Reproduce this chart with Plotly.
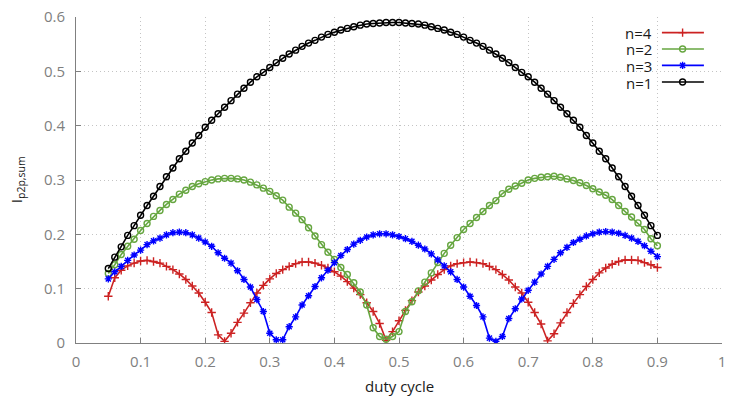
import plotly.graph_objects as go

# ---------------- data ----------------
duty = [0.05, 0.06, 0.07, 0.08, 0.09, 0.10, 0.11, 0.12, 0.13, 0.14,
        0.15, 0.16, 0.17, 0.18, 0.19, 0.20, 0.21, 0.22, 0.23, 0.24,
        0.25, 0.26, 0.27, 0.28, 0.29, 0.30, 0.31, 0.32, 0.33, 0.34,
        0.35, 0.36, 0.37, 0.38, 0.39, 0.40, 0.41, 0.42, 0.43, 0.44,
        0.45, 0.46, 0.47, 0.48, 0.49, 0.50, 0.51, 0.52, 0.53, 0.54,
        0.55, 0.56, 0.57, 0.58, 0.59, 0.60, 0.61, 0.62, 0.63, 0.64,
        0.65, 0.66, 0.67, 0.68, 0.69, 0.70, 0.71, 0.72, 0.73, 0.74,
        0.75, 0.76, 0.77, 0.78, 0.79, 0.80, 0.81, 0.82, 0.83, 0.84,
        0.85, 0.86, 0.87, 0.88, 0.89, 0.90]

n4 = [0.086, 0.120, 0.134, 0.142, 0.147, 0.151, 0.152, 0.150, 0.147, 0.141,
      0.135, 0.127, 0.117, 0.105, 0.092, 0.075, 0.056, 0.015, 0.003, 0.018,
      0.038, 0.055, 0.074, 0.092, 0.106, 0.118, 0.128, 0.135, 0.141, 0.146,
      0.149, 0.149, 0.147, 0.143, 0.138, 0.131, 0.123, 0.113, 0.101, 0.089,
      0.074, 0.058, 0.036, 0.005, 0.021, 0.041, 0.060, 0.078, 0.094, 0.105,
      0.116, 0.126, 0.135, 0.142, 0.146, 0.148, 0.149, 0.148, 0.146, 0.141,
      0.135, 0.126, 0.116, 0.103, 0.092, 0.075, 0.056, 0.035, 0.004, 0.017,
      0.037, 0.056, 0.073, 0.089, 0.104, 0.117, 0.129, 0.138, 0.145, 0.150,
      0.153, 0.153, 0.152, 0.148, 0.144, 0.139]

n2 = [0.128, 0.144, 0.163, 0.178, 0.191, 0.207, 0.220, 0.233, 0.244, 0.255,
      0.264, 0.274, 0.281, 0.288, 0.293, 0.297, 0.300, 0.302, 0.303, 0.303,
      0.302, 0.300, 0.296, 0.291, 0.285, 0.279, 0.271, 0.263, 0.250, 0.239,
      0.227, 0.212, 0.197, 0.181, 0.167, 0.154, 0.139, 0.126, 0.111, 0.094,
      0.070, 0.028, 0.012, 0.007, 0.012, 0.021, 0.058, 0.076, 0.096, 0.112,
      0.129, 0.148, 0.165, 0.180, 0.194, 0.209, 0.220, 0.231, 0.242, 0.253,
      0.262, 0.275, 0.283, 0.289, 0.294, 0.300, 0.303, 0.305, 0.306, 0.307,
      0.305, 0.302, 0.299, 0.295, 0.290, 0.284, 0.278, 0.272, 0.264, 0.253,
      0.242, 0.232, 0.221, 0.209, 0.192, 0.179]

n3 = [0.118, 0.131, 0.141, 0.152, 0.162, 0.171, 0.181, 0.188, 0.193, 0.199,
      0.203, 0.204, 0.203, 0.199, 0.193, 0.186, 0.178, 0.166, 0.156, 0.147,
      0.133, 0.117, 0.103, 0.080, 0.058, 0.018, 0.006, 0.006, 0.030, 0.048,
      0.070, 0.087, 0.104, 0.120, 0.134, 0.148, 0.161, 0.172, 0.182, 0.189,
      0.195, 0.199, 0.201, 0.201, 0.199, 0.196, 0.192, 0.187, 0.180, 0.173,
      0.164, 0.153, 0.142, 0.131, 0.117, 0.103, 0.086, 0.069, 0.048, 0.009,
      0.003, 0.012, 0.045, 0.063, 0.081, 0.097, 0.112, 0.127, 0.141, 0.154,
      0.166, 0.176, 0.185, 0.191, 0.197, 0.201, 0.204, 0.205, 0.204, 0.202,
      0.198, 0.193, 0.187, 0.179, 0.169, 0.159]

n1 = [0.137, 0.158, 0.177, 0.198, 0.216, 0.235, 0.253, 0.270, 0.288, 0.306,
      0.322, 0.339, 0.353, 0.368, 0.382, 0.397, 0.410, 0.422, 0.434, 0.446,
      0.458, 0.469, 0.480, 0.490, 0.498, 0.507, 0.516, 0.524, 0.532, 0.539,
      0.546, 0.552, 0.557, 0.563, 0.568, 0.572, 0.576, 0.579, 0.582, 0.585,
      0.587, 0.588, 0.589, 0.590, 0.590, 0.590, 0.589, 0.588, 0.587, 0.585,
      0.582, 0.579, 0.576, 0.572, 0.568, 0.563, 0.557, 0.552, 0.546, 0.539,
      0.532, 0.524, 0.516, 0.507, 0.498, 0.490, 0.480, 0.469, 0.458, 0.446,
      0.434, 0.422, 0.410, 0.397, 0.382, 0.368, 0.353, 0.339, 0.322, 0.306,
      0.288, 0.270, 0.253, 0.235, 0.216, 0.198]

series_names = ["n=4", "n=2", "n=3", "n=1"]
series_values = [n4, n2, n3, n1]

x_ticks = [0, 0.1, 0.2, 0.3, 0.4, 0.5, 0.6, 0.7, 0.8, 0.9, 1]
x_tick_labels = ["0", "0.1", "0.2", "0.3", "0.4", "0.5", "0.6", "0.7", "0.8", "0.9", "1"]
y_ticks = [0, 0.1, 0.2, 0.3, 0.4, 0.5, 0.6]
y_tick_labels = ["0", "0.1", "0.2", "0.3", "0.4", "0.5", "0.6"]

# ---------------- styles ----------------
colors = ["#cc2222", "#66a640", "#0000ff", "#000000"]
symbols = ["cross-thin", "circle-open", "asterisk-open", "circle-open"]
msizes = [6, 6, 6, 6]

FONT = "Open Sans, Noto Sans, DejaVu Sans, sans-serif"
TICK_COLOR = "#7f7f7f"
GRID_COLOR = "#c4c4c4"

fig = go.Figure()

for name, vals, c, sym, ms in zip(series_names, series_values, colors, symbols, msizes):
    fig.add_trace(go.Scatter(
        x=duty, y=vals, name=name, mode="lines+markers",
        line=dict(color=c, width=1.6),
        marker=dict(symbol=sym, size=ms, color=c, line=dict(color=c, width=1.4)),
        showlegend=False,
    ))

# gnuplot-like key: text on the left, sample on the right (drawn on a hidden overlay axis)
leg_text_x = 0.893
leg_line_x = [0.907, 0.972]
leg_mark_x = 0.939
leg_y = [0.952, 0.902, 0.8515, 0.8006]

annotations = []
for name, c, sym, ms, ly in zip(series_names, colors, symbols, msizes, leg_y):
    fig.add_trace(go.Scatter(
        x=leg_line_x, y=[ly, ly], xaxis="x2", yaxis="y2", mode="lines",
        line=dict(color=c, width=1.6), showlegend=False, hoverinfo="skip"))
    fig.add_trace(go.Scatter(
        x=[leg_mark_x], y=[ly], xaxis="x2", yaxis="y2", mode="markers",
        marker=dict(symbol=sym, size=ms, color=c, line=dict(color=c, width=1.4)),
        showlegend=False, hoverinfo="skip"))
    annotations.append(dict(
        x=leg_text_x, y=ly, xref="paper", yref="paper", text=name,
        showarrow=False, xanchor="right", yanchor="middle",
        height=15, borderpad=0,
        font=dict(family=FONT, size=15, color="#1a1a1a")))

annotations.append(dict(
    x=0.5, y=-0.131, xref="paper", yref="paper", text="duty cycle",
    showarrow=False, xanchor="center", yanchor="middle",
    font=dict(family=FONT, size=15, color="#1a1a1a")))
annotations.append(dict(
    x=-0.091, y=0.5, xref="paper", yref="paper", text="I<sub>p2p,sum</sub>",
    showarrow=False, xanchor="center", yanchor="middle", textangle=-90,
    font=dict(family=FONT, size=15, color="#1a1a1a")))

axis_common = dict(
    showgrid=True, gridcolor=GRID_COLOR, gridwidth=1, griddash="1px,3px",
    showline=True, linecolor="#808080", linewidth=1,
    ticks="inside", ticklen=5, tickcolor="#808080", tickwidth=1,
    tickfont=dict(family=FONT, size=15, color=TICK_COLOR),
    zeroline=False, mirror=False,
)

fig.update_layout(
    width=750, height=398,
    margin=dict(l=76, r=28, t=17, b=55, autoexpand=False),
    paper_bgcolor="white", plot_bgcolor="white",
    xaxis=dict(range=[0, 1], tickmode="array", tickvals=x_ticks, ticktext=x_tick_labels,
               ticklabelstandoff=5, **axis_common),
    yaxis=dict(range=[0, 0.6], tickmode="array", tickvals=y_ticks, ticktext=y_tick_labels,
               ticklabelstandoff=7, **axis_common),
    xaxis2=dict(range=[0, 1], overlaying="x", visible=False, fixedrange=True),
    yaxis2=dict(range=[0, 1], overlaying="y", visible=False, fixedrange=True),
    annotations=annotations,
    showlegend=False,
)

fig.write_html("out.html", config={"displayModeBar": False})

# remove the browser's default page margin so the figure sits at the window origin
with open("out.html", "r", encoding="utf-8") as f:
    html = f.read()
html = html.replace("<head>", "<head><style>html,body{margin:0;padding:0;overflow:hidden;}</style>", 1)
with open("out.html", "w", encoding="utf-8") as f:
    f.write(html)
